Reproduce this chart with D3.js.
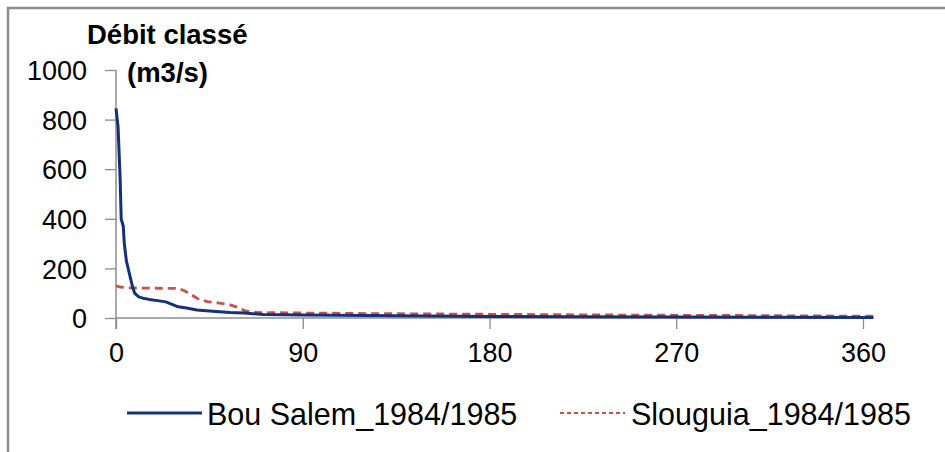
<!DOCTYPE html>
<html>
<head>
<meta charset="utf-8">
<script src="https://cdn.jsdelivr.net/npm/d3@7"></script>
<style>
  body { margin: 0; background: #fff; }
  svg { display: block; font-family: "Liberation Sans", Arial, sans-serif; }
</style>
</head>
<body>
<div id="chart"></div>
<script>
// flow duration curves, days ranked vs discharge (m3/s)
const bouDays = [0, 1, 2, 2.5, 3, 3.5, 4, 5, 6, 7, 8, 9, 10, 11, 13, 16, 20, 24, 27, 30, 34, 39, 45, 50, 55, 62, 71, 80, 90, 120, 150, 180, 220, 270, 320, 365];
const bouValues = [845, 770, 560, 400, 385, 370, 300, 230, 195, 160, 125, 100, 92, 85, 80, 75, 70, 65, 55, 45, 40, 32, 28, 25, 22, 20, 14, 13, 12, 10, 8, 6, 5, 4, 3, 2];
const sloDays = [0, 2, 5, 10, 20, 30, 33, 36, 40, 44, 50, 55, 58, 62, 65, 70, 90, 120, 180, 240, 300, 365];
const sloValues = [130, 125, 122, 121, 120, 119, 110, 95, 75, 66, 60, 53, 45, 30, 24, 22, 20, 18, 15, 12, 10, 7];
const xTicks = [0, 90, 180, 270, 360];
const yTicks = [0, 200, 400, 600, 800, 1000];
const seriesNames = ['Bou Salem_1984/1985', 'Slouguia_1984/1985'];

const W = 945, H = 452;
const margin = { top: 70, right: 72, bottom: 134, left: 116 };

const svg = d3.select('#chart').append('svg')
  .attr('width', W)
  .attr('height', H);

// outer frame (cut off on right and bottom)
svg.append('path')
  .attr('d', `M8,${H + 5} L8,8 L${W + 5},8`)
  .attr('fill', 'none')
  .attr('stroke', '#8c8c8c')
  .attr('stroke-width', 2.5);

const x = d3.scaleLinear().domain([0, 360]).range([margin.left, 863]);
const y = d3.scaleLinear().domain([0, 1000]).range([318, margin.top]);

const axisColor = '#8c8c8c';

// y axis
const gy = svg.append('g')
  .attr('transform', `translate(${margin.left},0)`)
  .call(d3.axisLeft(y).tickValues(yTicks).tickFormat(d3.format('d')).tickSize(11).tickPadding(18));
gy.select('.domain').remove();
gy.selectAll('.tick line').attr('stroke', axisColor).attr('stroke-width', 1.3);
gy.selectAll('.tick text')
  .attr('font-size', 27)
  .attr('fill', '#000')
  .attr('dy', '0.36em');
gy.append('line')
  .attr('x1', 0).attr('x2', 0)
  .attr('y1', y(1000)).attr('y2', y(0) + 11)
  .attr('stroke', axisColor).attr('stroke-width', 1.5);

// x axis
const gx = svg.append('g')
  .attr('transform', `translate(0,${y(0)})`)
  .call(d3.axisBottom(x).tickValues(xTicks).tickSize(11).tickPadding(14));
gx.select('.domain').remove();
gx.selectAll('.tick line').attr('stroke', axisColor).attr('stroke-width', 1.3);
gx.selectAll('.tick text')
  .attr('font-size', 27)
  .attr('fill', '#000');
gx.append('line')
  .attr('x1', x(0)).attr('x2', x(365))
  .attr('y1', 0).attr('y2', 0)
  .attr('stroke', axisColor).attr('stroke-width', 1.5);

// axis title
svg.append('text')
  .attr('x', 87).attr('y', 44)
  .attr('font-size', 27.5).attr('font-weight', 'bold')
  .text('Débit classé');
svg.append('text')
  .attr('x', 127).attr('y', 82)
  .attr('font-size', 27.5).attr('font-weight', 'bold')
  .text('(m3/s)');

const line = d3.line()
  .x((d) => x(d[0]))
  .y((d) => y(d[1]));

const bouData = d3.zip(bouDays, bouValues);
const sloData = d3.zip(sloDays, sloValues);

svg.append('path')
  .datum(sloData)
  .attr('fill', 'none')
  .attr('stroke', '#c9504d')
  .attr('stroke-width', 2.8)
  .attr('stroke-dasharray', '8,5')
  .attr('d', line);

svg.append('path')
  .datum(bouData)
  .attr('fill', 'none')
  .attr('stroke', '#14307a')
  .attr('stroke-width', 3)
  .attr('stroke-linejoin', 'round')
  .attr('d', line);

// legend
const legend = svg.append('g').attr('font-size', 30.5);
legend.append('line')
  .attr('x1', 127).attr('x2', 202).attr('y1', 413).attr('y2', 413)
  .attr('stroke', '#14307a').attr('stroke-width', 3);
legend.append('text')
  .attr('x', 207).attr('y', 425)
  .text(seriesNames[0]);
legend.append('line')
  .attr('x1', 560).attr('x2', 625).attr('y1', 413).attr('y2', 413)
  .attr('stroke', '#c9504d').attr('stroke-width', 2)
  .attr('stroke-dasharray', '4,3');
legend.append('text')
  .attr('x', 631).attr('y', 425)
  .text(seriesNames[1]);
</script>
</body>
</html>
